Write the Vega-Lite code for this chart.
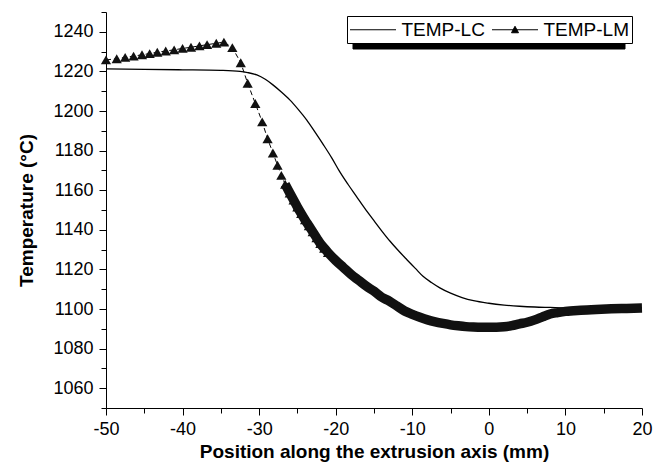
{
  "$schema": "https://vega.github.io/schema/vega-lite/v6.json",
  "width": 536,
  "height": 396,
  "autosize": {"type": "none"},
  "padding": {"left": 106, "top": 12, "right": 22, "bottom": 63},
  "background": "white",
  "config": {
    "view": {"stroke": null},
    "font": "Liberation Sans",
    "axis": {
      "domainColor": "black",
      "domainWidth": 1,
      "tickColor": "black",
      "tickWidth": 1,
      "labelColor": "black",
      "labelFont": "Liberation Sans",
      "labelFontSize": 18,
      "titleColor": "black",
      "titleFont": "Liberation Sans",
      "titleFontSize": 19,
      "titleFontWeight": "bold",
      "grid": false
    }
  },
  "data": {
    "values": [
      {"series": "TEMP-LC", "x": -50, "y": 1221.3},
      {"series": "TEMP-LC", "x": -45, "y": 1221.0},
      {"series": "TEMP-LC", "x": -40, "y": 1220.8},
      {"series": "TEMP-LC", "x": -35, "y": 1220.5},
      {"series": "TEMP-LC", "x": -32.5, "y": 1220.0},
      {"series": "TEMP-LC", "x": -31.5, "y": 1219.4},
      {"series": "TEMP-LC", "x": -30.3, "y": 1218.2},
      {"series": "TEMP-LC", "x": -29.2, "y": 1216.0},
      {"series": "TEMP-LC", "x": -28.2, "y": 1213.2},
      {"series": "TEMP-LC", "x": -27.1, "y": 1209.6},
      {"series": "TEMP-LC", "x": -26.0, "y": 1205.6},
      {"series": "TEMP-LC", "x": -24.9, "y": 1200.8},
      {"series": "TEMP-LC", "x": -23.8, "y": 1195.5},
      {"series": "TEMP-LC", "x": -22.7, "y": 1189.3},
      {"series": "TEMP-LC", "x": -21.6, "y": 1182.9},
      {"series": "TEMP-LC", "x": -20.5, "y": 1176.2},
      {"series": "TEMP-LC", "x": -19.5, "y": 1169.5},
      {"series": "TEMP-LC", "x": -18.4, "y": 1163.0},
      {"series": "TEMP-LC", "x": -17.3, "y": 1156.9},
      {"series": "TEMP-LC", "x": -16.2, "y": 1150.8},
      {"series": "TEMP-LC", "x": -15.1, "y": 1145.1},
      {"series": "TEMP-LC", "x": -14.0, "y": 1139.5},
      {"series": "TEMP-LC", "x": -12.9, "y": 1134.2},
      {"series": "TEMP-LC", "x": -11.8, "y": 1129.4},
      {"series": "TEMP-LC", "x": -10.7, "y": 1124.9},
      {"series": "TEMP-LC", "x": -9.6, "y": 1120.5},
      {"series": "TEMP-LC", "x": -8.6, "y": 1116.5},
      {"series": "TEMP-LC", "x": -7.5, "y": 1113.4},
      {"series": "TEMP-LC", "x": -6.4, "y": 1110.7},
      {"series": "TEMP-LC", "x": -5, "y": 1108.0},
      {"series": "TEMP-LC", "x": -3.5, "y": 1105.8},
      {"series": "TEMP-LC", "x": -2, "y": 1104.2},
      {"series": "TEMP-LC", "x": 0, "y": 1102.9},
      {"series": "TEMP-LC", "x": 2, "y": 1102.0},
      {"series": "TEMP-LC", "x": 4, "y": 1101.4},
      {"series": "TEMP-LC", "x": 6, "y": 1101.0},
      {"series": "TEMP-LC", "x": 8, "y": 1100.8},
      {"series": "TEMP-LC", "x": 10, "y": 1100.6},
      {"series": "TEMP-LC", "x": 14, "y": 1100.5},
      {"series": "TEMP-LC", "x": 20, "y": 1100.5},
      {"series": "TEMP-LM", "x": -50, "y": 1225.8},
      {"series": "TEMP-LM", "x": -48.6, "y": 1226.4},
      {"series": "TEMP-LM", "x": -47.5, "y": 1227.1},
      {"series": "TEMP-LM", "x": -46.4, "y": 1227.7},
      {"series": "TEMP-LM", "x": -45.3, "y": 1228.4},
      {"series": "TEMP-LM", "x": -44.3, "y": 1229.0},
      {"series": "TEMP-LM", "x": -43.3, "y": 1229.7},
      {"series": "TEMP-LM", "x": -42.2, "y": 1230.3},
      {"series": "TEMP-LM", "x": -41.1, "y": 1230.9},
      {"series": "TEMP-LM", "x": -40.0, "y": 1231.6},
      {"series": "TEMP-LM", "x": -38.9, "y": 1232.2},
      {"series": "TEMP-LM", "x": -37.8, "y": 1232.9},
      {"series": "TEMP-LM", "x": -36.8, "y": 1233.5},
      {"series": "TEMP-LM", "x": -35.6, "y": 1234.2},
      {"series": "TEMP-LM", "x": -34.6, "y": 1234.8},
      {"series": "TEMP-LM", "x": -33.5, "y": 1232.0},
      {"series": "TEMP-LM", "x": -32.4, "y": 1224.4},
      {"series": "TEMP-LM", "x": -31.5, "y": 1214.0},
      {"series": "TEMP-LM", "x": -30.5, "y": 1203.8},
      {"series": "TEMP-LM", "x": -29.6, "y": 1194.5},
      {"series": "TEMP-LM", "x": -28.9, "y": 1186.0},
      {"series": "TEMP-LM", "x": -28.2, "y": 1178.8},
      {"series": "TEMP-LM", "x": -27.6, "y": 1172.6},
      {"series": "TEMP-LM", "x": -27.1, "y": 1167.5},
      {"series": "TEMP-LM", "x": -26.6, "y": 1163.0},
      {"series": "TEMP-LM", "x": -26.0, "y": 1158.6},
      {"series": "TEMP-LM", "x": -25.5, "y": 1155.0},
      {"series": "TEMP-LM", "x": -25, "y": 1151.5},
      {"series": "TEMP-LM", "x": -24.5, "y": 1148.2},
      {"series": "TEMP-LM", "x": -24, "y": 1145.0},
      {"series": "TEMP-LM", "x": -23.5, "y": 1142.0},
      {"series": "TEMP-LM", "x": -23, "y": 1139.0},
      {"series": "TEMP-LM", "x": -22.5, "y": 1136.0},
      {"series": "TEMP-LM", "x": -22, "y": 1133.0},
      {"series": "TEMP-LM", "x": -21.5, "y": 1130.7},
      {"series": "TEMP-LM", "x": -21, "y": 1128.5},
      {"series": "TEMP-LM", "x": -20, "y": 1124.5},
      {"series": "TEMP-LM", "x": -19, "y": 1121.0},
      {"series": "TEMP-LM", "x": -18, "y": 1117.5},
      {"series": "TEMP-LM", "x": -17, "y": 1114.5},
      {"series": "TEMP-LM", "x": -16, "y": 1111.5},
      {"series": "TEMP-LM", "x": -15, "y": 1109.0},
      {"series": "TEMP-LM", "x": -14, "y": 1106.0},
      {"series": "TEMP-LM", "x": -13, "y": 1104.0},
      {"series": "TEMP-LM", "x": -12, "y": 1101.5},
      {"series": "TEMP-LM", "x": -11, "y": 1099.0},
      {"series": "TEMP-LM", "x": -10, "y": 1097.3},
      {"series": "TEMP-LM", "x": -9, "y": 1095.8},
      {"series": "TEMP-LM", "x": -8, "y": 1094.5},
      {"series": "TEMP-LM", "x": -7, "y": 1093.5},
      {"series": "TEMP-LM", "x": -6, "y": 1092.7},
      {"series": "TEMP-LM", "x": -5, "y": 1092.0},
      {"series": "TEMP-LM", "x": -4, "y": 1091.5},
      {"series": "TEMP-LM", "x": -3, "y": 1091.1},
      {"series": "TEMP-LM", "x": -2, "y": 1090.9},
      {"series": "TEMP-LM", "x": -1, "y": 1090.8},
      {"series": "TEMP-LM", "x": 0, "y": 1090.8},
      {"series": "TEMP-LM", "x": 1, "y": 1090.8},
      {"series": "TEMP-LM", "x": 2, "y": 1091.0},
      {"series": "TEMP-LM", "x": 3, "y": 1091.6},
      {"series": "TEMP-LM", "x": 4, "y": 1092.5},
      {"series": "TEMP-LM", "x": 5, "y": 1093.3},
      {"series": "TEMP-LM", "x": 6, "y": 1094.5},
      {"series": "TEMP-LM", "x": 7, "y": 1096.0},
      {"series": "TEMP-LM", "x": 8, "y": 1097.5},
      {"series": "TEMP-LM", "x": 9, "y": 1098.2},
      {"series": "TEMP-LM", "x": 10, "y": 1098.8},
      {"series": "TEMP-LM", "x": 12, "y": 1099.4},
      {"series": "TEMP-LM", "x": 14, "y": 1099.8},
      {"series": "TEMP-LM", "x": 16, "y": 1100.1},
      {"series": "TEMP-LM", "x": 18, "y": 1100.3},
      {"series": "TEMP-LM", "x": 20, "y": 1100.5}
    ]
  },
  "encoding": {
    "x": {
      "field": "x",
      "type": "quantitative",
      "scale": {"domain": [-50, 20], "nice": false},
      "axis": {
        "title": "Position along the extrusion axis (mm)",
        "values": [-50, -45, -40, -35, -30, -25, -20, -15, -10, -5, 0, 5, 10, 15, 20],
        "labelExpr": "datum.value % 10 === 0 ? '' + datum.value : ''",
        "tickSize": {"condition": {"test": "datum.value % 10 === 0", "value": 7}, "value": 5},
        "labelPadding": 5,
        "titlePadding": 4,
        "labelFlush": false
      }
    },
    "y": {
      "field": "y",
      "type": "quantitative",
      "scale": {"domain": [1050, 1250], "nice": false, "zero": false},
      "axis": {
        "title": "Temperature (°C)",
        "values": [1050, 1060, 1070, 1080, 1090, 1100, 1110, 1120, 1130, 1140, 1150, 1160, 1170, 1180, 1190, 1200, 1210, 1220, 1230, 1240, 1250],
        "labelExpr": "datum.value % 20 === 0 ? '' + datum.value : ''",
        "tickSize": {"condition": {"test": "datum.value % 20 === 0", "value": 7}, "value": 5},
        "labelPadding": 6,
        "titlePadding": 16,
        "labelFlush": false
      }
    }
  },
  "layer": [
    {
      "transform": [{"filter": "datum.series === 'TEMP-LC'"}],
      "mark": {"type": "line", "strokeWidth": 1.3, "interpolate": "monotone"},
      "encoding": {
        "color": {
          "field": "series",
          "type": "nominal",
          "scale": {"domain": ["TEMP-LC", "TEMP-LM"], "range": ["black", "black"]},
          "legend": {
            "orient": "none",
            "legendX": 241,
            "legendY": 4,
            "zindex": 2,
            "direction": "horizontal",
            "columns": 2,
            "title": null,
            "fillColor": "white",
            "strokeColor": "black",
            "padding": 3,
            "labelFont": "Liberation Sans",
            "labelFontSize": 19,
            "labelColor": "black",
            "symbolSize": 400,
            "symbolOffset": 12.5,
            "symbolStrokeWidth": 1,
            "symbolStrokeColor": "black",
            "symbolFillColor": "black",
            "labelOffset": 18,
            "columnPadding": 5,
            "encode": {
              "symbols": {
                "update": {
                  "shape": {"signal": "datum.value === 'TEMP-LM' ? 'M-2.3,0H2.3M-0.35,0.3L0,-0.35L0.35,0.3Z' : 'M-2.3,0H2.3'"},
                  "fill": {"value": "black"},
                  "stroke": {"value": "black"},
                  "strokeWidth": {"value": 1}
                }
              }
            }
          }
        }
      }
    },
    {
      "transform": [{"filter": "datum.series === 'TEMP-LM'"}],
      "mark": {"type": "line", "strokeWidth": 1, "strokeDash": [5, 3]},
      "encoding": {
        "color": {"field": "series", "type": "nominal"}
      }
    },
    {
      "transform": [{"filter": "datum.series === 'TEMP-LM' && datum.x >= -26.6"}],
      "mark": {"type": "line", "strokeWidth": 9.5, "color": "#111111", "strokeCap": "butt", "interpolate": "monotone"},
      "encoding": {}
    },
    {
      "transform": [{"filter": "datum.series === 'TEMP-LM' && datum.x <= -21"}],
      "mark": {"type": "point", "shape": "triangle-up", "size": 105, "filled": true, "color": "#111111", "opacity": 1},
      "encoding": {}
    },
    {
      "mark": {"type": "point", "filled": true},
      "encoding": {
        "opacity": {
          "field": "series",
          "type": "nominal",
          "scale": {"range": [0, 0]},
          "legend": {
            "orient": "none",
            "legendX": 246.5,
            "legendY": 9.5,
            "zindex": 0,
            "values": ["TEMP-LC"],
            "title": null,
            "fillColor": "black",
            "strokeColor": "black",
            "padding": 3,
            "labelExpr": "''",
            "labelFontSize": 19,
            "symbolSize": 400,
            "symbolType": "M-1,-1H1V1H-1Z",
            "symbolStrokeColor": "black",
            "symbolFillColor": "black",
            "labelOffset": 244
          }
        }
      }
    }
  ]
}
